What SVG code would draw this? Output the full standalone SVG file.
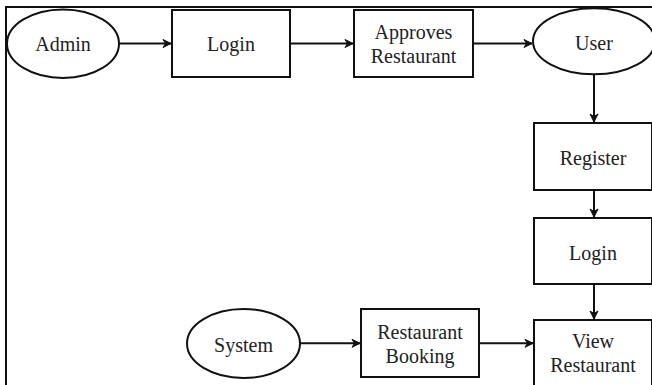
<svg xmlns="http://www.w3.org/2000/svg" width="652" height="385" viewBox="0 0 652 385">
<style>
.s{fill:#fff;stroke:#111;stroke-width:2}
.t{font-family:"Liberation Serif","Times New Roman",serif;font-size:20px;fill:#222;text-anchor:middle}
.c{stroke:#111;stroke-width:2;fill:none}
</style>
<defs>
<marker id="a" markerWidth="10" markerHeight="10" refX="9" refY="5" orient="auto" markerUnits="userSpaceOnUse">
<path d="M1,1 L9,5 L1,9 L3.5,5 z" fill="#111" stroke="#111" stroke-width="1" stroke-linejoin="round"/>
</marker>
</defs>
<rect width="652" height="385" fill="#fff"/>
<g id="frame"><path class="c" d="M6,385 V7 H652"/></g>
<g id="connectors">
<line class="c" x1="119" y1="43.5" x2="171" y2="43.5" marker-end="url(#a)"/>
<line class="c" x1="290" y1="43.5" x2="353" y2="43.5" marker-end="url(#a)"/>
<line class="c" x1="473" y1="43.5" x2="532" y2="43.5" marker-end="url(#a)"/>
<line class="c" x1="594" y1="74" x2="594" y2="122" marker-end="url(#a)"/>
<line class="c" x1="594" y1="190" x2="594" y2="217" marker-end="url(#a)"/>
<line class="c" x1="594" y1="284" x2="594" y2="319" marker-end="url(#a)"/>
<line class="c" x1="300" y1="343.3" x2="360" y2="343.3" marker-end="url(#a)"/>
<line class="c" x1="479" y1="343.3" x2="533" y2="343.3" marker-end="url(#a)"/>
</g>
<g id="admin"><ellipse class="s" cx="63" cy="43.7" rx="56" ry="34.3"/><text class="t" x="63" y="50.7">Admin</text></g>
<g id="login1"><rect class="s" x="172" y="10" width="118" height="67"/><text class="t" x="231" y="50.7">Login</text></g>
<g id="approves"><rect class="s" x="354" y="10" width="119" height="67"/><text class="t" x="413.5" y="39.3">Approves</text><text class="t" x="413.5" y="63.3">Restaurant</text></g>
<g id="user"><ellipse class="s" cx="594" cy="41.3" rx="61" ry="33"/><text class="t" x="594" y="50">User</text></g>
<g id="register"><rect class="s" x="534" y="123" width="118" height="67"/><text class="t" x="593" y="165">Register</text></g>
<g id="login2"><rect class="s" x="534" y="218" width="118" height="66"/><text class="t" x="593" y="260">Login</text></g>
<g id="view"><rect class="s" x="534" y="320" width="118" height="70"/><text class="t" x="593" y="348.3">View</text><text class="t" x="593" y="371.7">Restaurant</text></g>
<g id="system"><ellipse class="s" cx="243.5" cy="343.5" rx="56.5" ry="34.5"/><text class="t" x="243.5" y="352">System</text></g>
<g id="booking"><rect class="s" x="361" y="309" width="118" height="68"/><text class="t" x="420" y="339.3">Restaurant</text><text class="t" x="420" y="362.7">Booking</text></g>
</svg>
